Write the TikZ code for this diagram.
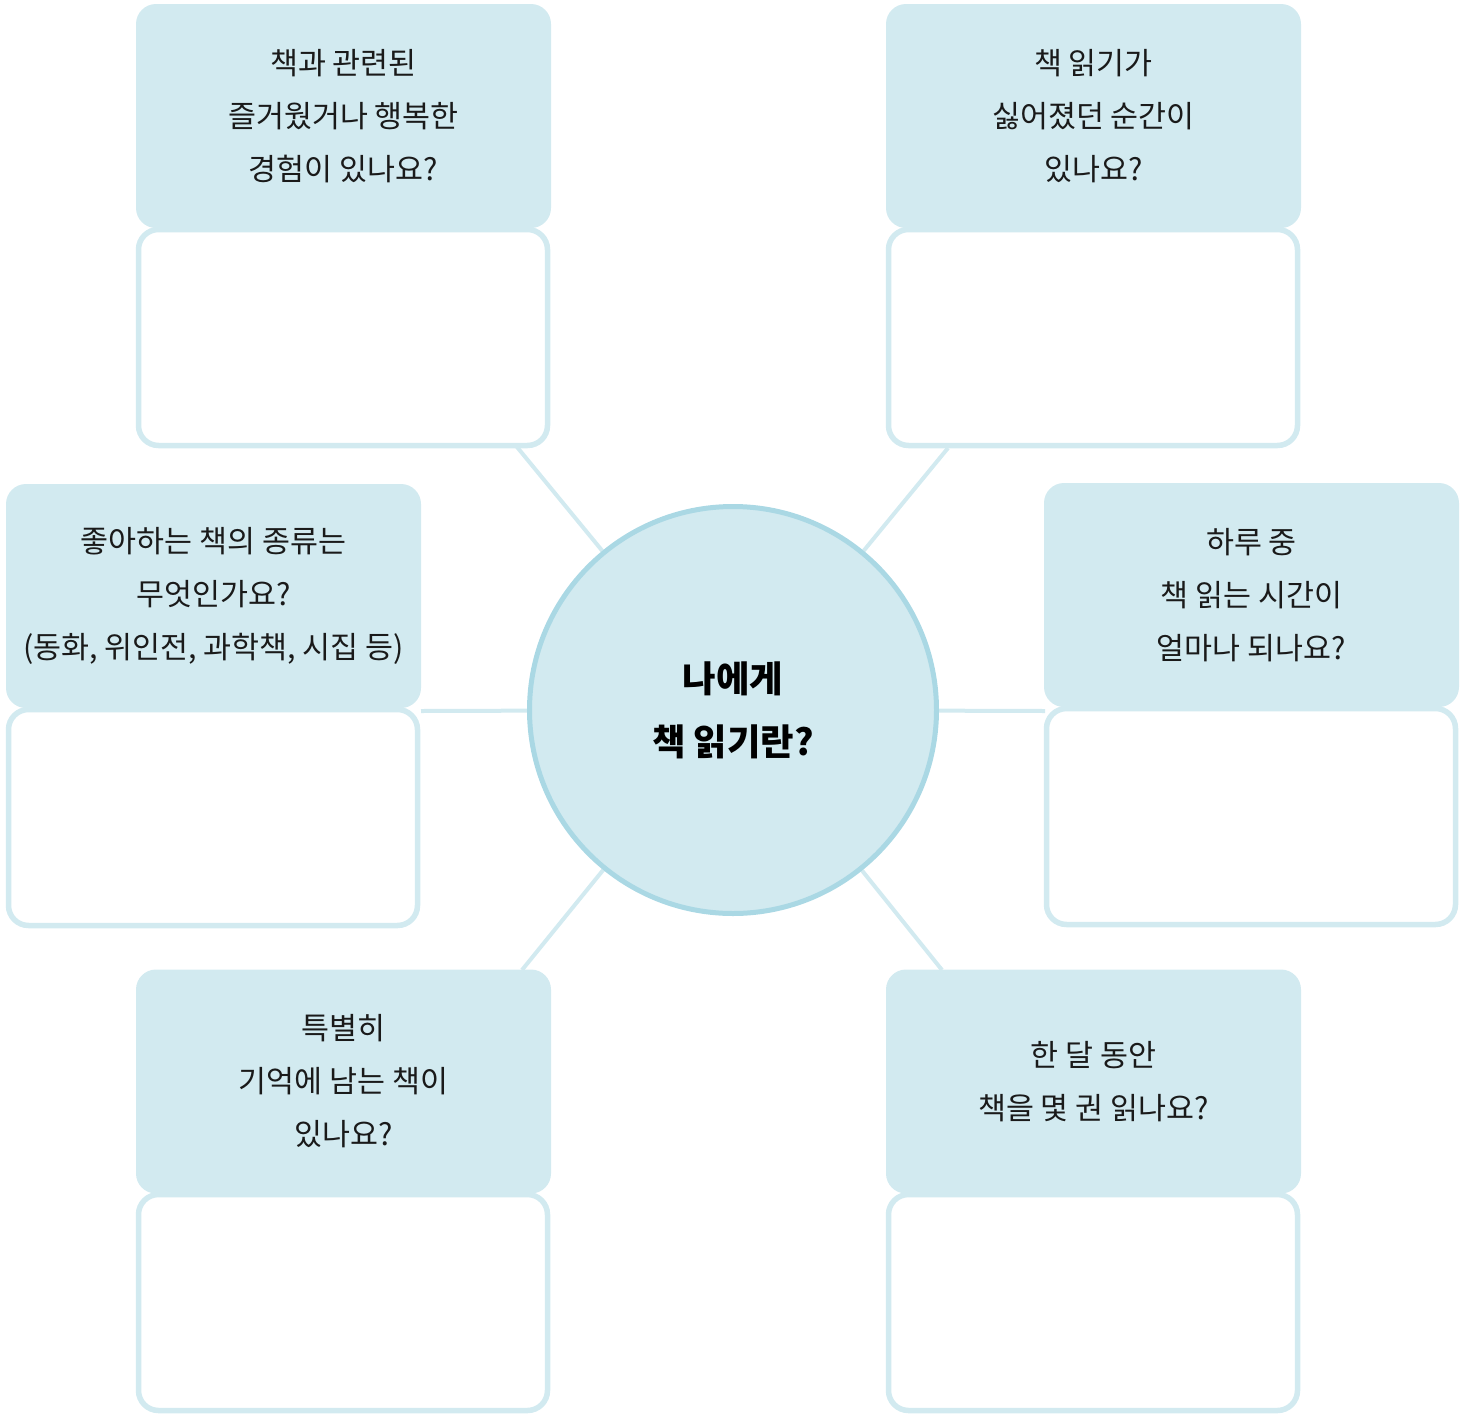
\documentclass[tikz,border=0pt]{standalone}
\usepackage{fontspec}
\setmainfont{Noto Sans CJK KR}
\usetikzlibrary{backgrounds}
\definecolor{hdr}{HTML}{D2EAF0}
\definecolor{ring}{HTML}{AAD8E4}
\definecolor{txt}{HTML}{1A1A1A}
\begin{document}
\begin{tikzpicture}[x=0.5pt,y=-0.5pt,
  hdrbox/.style={fill=hdr, rounded corners=10pt, minimum width=207.5pt, minimum height=112pt,
    inner sep=0pt, text=txt, align=center, font=\fontsize{15.2pt}{26.5pt}\selectfont},
  ansbox/.style={draw=hdr, line width=2.75pt, fill=white, rounded corners=10pt,
    minimum width=204.5pt, minimum height=108pt, inner sep=0pt},
  hubnode/.style={circle, draw=ring, line width=2.5pt, fill=hdr, minimum size=203.5pt,
    inner sep=0pt, text=black, align=center, font=\bfseries\fontsize{18.2pt}{31.5pt}\selectfont},
  conn/.style={draw=hdr, line width=2pt}]
\useasboundingbox (0,0) rectangle (1468,1414);
% answer boxes
\node[ansbox] (a1) at (343,337.5) {};
\node[ansbox] (a2) at (1093,337.5) {};
\node[ansbox] (a3) at (213,817.5) {};
\node[ansbox] (a4) at (1251,816.5) {};
\node[ansbox] (a5) at (343,1302.5) {};
\node[ansbox] (a6) at (1093,1302.5) {};
% headers
\node[hdrbox] (q1) at (343.5,116) {책과 관련된\\즐거웠거나 행복한\\경험이 있나요?};
\node[hdrbox] (q2) at (1093.5,116) {책 읽기가\\싫어졌던 순간이\\있나요?};
\node[hdrbox] (q3) at (213.5,596) {좋아하는 책의 종류는\\무엇인가요?\\(동화, 위인전, 과학책, 시집 등)};
\node[hdrbox] (q4) at (1251.5,595) {하루 중\\책 읽는 시간이\\얼마나 되나요?};
\node[hdrbox] (q5) at (343.5,1081.5) {특별히\\기억에 남는 책이\\있나요?};
\node[hdrbox] (q6) at (1093.5,1081.5) {한 달 동안\\책을 몇 권 읽나요?};
% hub
\node[hubnode] (hub) at (733,710) {나에게\\책 읽기란?};
% connector ends
\coordinate (c1) at (517,447);
\coordinate (c2) at (948,448);
\coordinate (c3) at (421,711);
\coordinate (c4) at (1045,711);
\coordinate (c5) at (522,970);
\coordinate (c6) at (942,970);
\begin{pgfonlayer}{background}
\draw[conn] (c1) -- (hub);
\draw[conn] (c2) -- (hub);
\draw[conn] (c3) -- (hub);
\draw[conn] (c4) -- (hub);
\draw[conn] (c5) -- (hub);
\draw[conn] (c6) -- (hub);
\end{pgfonlayer}
\end{tikzpicture}
\end{document}
